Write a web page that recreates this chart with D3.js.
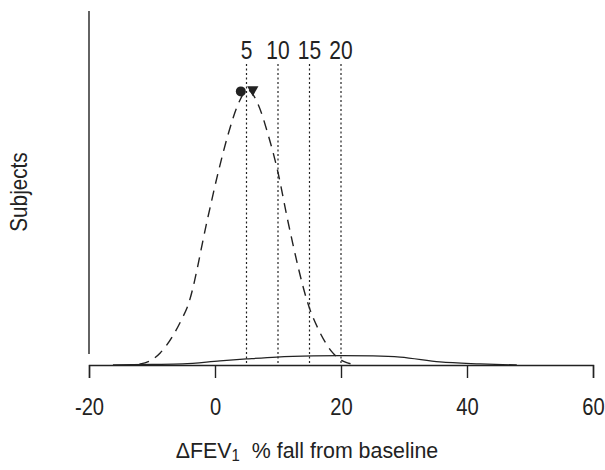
<!DOCTYPE html>
<html>
<head>
<meta charset="utf-8">
<style>
body { margin: 0; background: #fff; }
text { fill: #222; font-family: "Liberation Sans", Arial, sans-serif; }
</style>
</head>
<body>
<script src="https://cdn.jsdelivr.net/npm/d3@7"></script>
<script>
// x ticks
var xTicks = [-20, 0, 20, 40, 60];
// threshold lines (% fall)
var thresholds = [5, 10, 15, 20];
// dashed distribution (x value, relative height)
var dashX = [-12, -10.3, -8.7, -5.2, -4.4, -1.1, 0.5, 2.1, 3.7, 5.2, 6.8, 8.4, 10, 11.6, 15.1, 16.3, 18.7, 20.6, 22];
var dashH = [0.3, 1.5, 4.4, 17, 21, 54, 70, 84, 95, 100, 95, 84, 70, 52, 20, 13.5, 4.4, 1.1, 0.3];
// solid distribution
var solidX = [-16.2, -10, -5.1, 0.8, 5, 9.8, 15.6, 20, 25.1, 29.4, 35.7, 42.1, 47.9];
var solidH = [0, 0.2, 0.4, 1.5, 2.2, 2.9, 3.3, 3.4, 3.3, 2.9, 1.1, 0.4, 0];
// peak markers
var markX = [4.1, 6.0];
var markH = [99.5, 100.5];
var markShape = ["circle", "triangle"];

var width = 605, height = 470;
var narrow = "scale(0.84,1)";  // condensed look of the original font

var svg = d3.select("body").append("svg")
    .attr("width", width)
    .attr("height", height);

var x = d3.scaleLinear().domain([-20, 60]).range([89, 593]);
var y = d3.scaleLinear().domain([0, 100]).range([365, 90]);

// y axis line (no ticks)
svg.append("line")
    .attr("x1", x(-20)).attr("x2", x(-20))
    .attr("y1", 11).attr("y2", 354)
    .attr("stroke", "#222").attr("stroke-width", 1.4);

// x axis
var xAxis = svg.append("g")
    .attr("transform", "translate(0," + y(0) + ")")
    .call(d3.axisBottom(x).tickValues(xTicks).tickSize(13).tickPadding(20)
      .tickFormat(function(d) { return String(d); }));
xAxis.select(".domain").attr("stroke", "#222").attr("stroke-width", 1.4);
xAxis.selectAll(".tick line").attr("stroke", "#222").attr("stroke-width", 1.4);
xAxis.selectAll(".tick text")
    .attr("font-family", "Liberation Sans, Arial, sans-serif")
    .attr("font-size", 24)
    .attr("fill", "#222")
    .attr("transform", narrow);

// threshold dotted lines
svg.selectAll(".thr")
    .data(thresholds)
    .enter().append("line")
    .attr("class", "thr")
    .attr("x1", function(d) { return x(d); })
    .attr("x2", function(d) { return x(d); })
    .attr("y1", 64).attr("y2", y(0))
    .attr("stroke", "#222")
    .attr("stroke-width", 1.2)
    .attr("stroke-dasharray", "2,2.5");

svg.selectAll(".thrlab")
    .data(thresholds)
    .enter().append("g")
    .attr("class", "thrlab")
    .attr("transform", function(d) { return "translate(" + x(d) + ",59)"; })
    .append("text")
    .attr("text-anchor", "middle")
    .attr("font-size", 25)
    .attr("transform", narrow)
    .text(function(d) { return d; });

var line = d3.line()
    .x(function(d) { return x(d[0]); })
    .y(function(d) { return y(d[1]); })
    .curve(d3.curveMonotoneX);

svg.append("path")
    .datum(dashX.map(function(v, i) { return [v, dashH[i]]; }))
    .attr("d", line)
    .attr("fill", "none")
    .attr("stroke", "#222")
    .attr("stroke-width", 1.4)
    .attr("stroke-dasharray", "10,7");

svg.append("path")
    .datum(solidX.map(function(v, i) { return [v, solidH[i]]; }))
    .attr("d", line)
    .attr("fill", "none")
    .attr("stroke", "#222")
    .attr("stroke-width", 1.3);

// markers at the peak
markX.forEach(function(v, i) {
  if (markShape[i] === "circle") {
    svg.append("circle")
      .attr("cx", x(v)).attr("cy", y(markH[i]))
      .attr("r", 5)
      .attr("fill", "#222");
  } else {
    svg.append("path")
      .attr("d", d3.symbol().type(d3.symbolTriangle).size(55)())
      .attr("transform", "translate(" + x(v) + "," + (y(markH[i]) + 1) + ") rotate(180)")
      .attr("fill", "#222");
  }
});

// axis titles
svg.append("g")
    .attr("transform", "translate(27,192) rotate(-90)")
  .append("text")
    .attr("text-anchor", "middle")
    .attr("font-size", 23)
    .attr("transform", "scale(0.9,1)")
    .text("Subjects");

var title = svg.append("g")
    .attr("transform", "translate(307,458)")
  .append("text")
    .attr("text-anchor", "middle")
    .attr("font-size", 23)
    .attr("transform", "scale(0.93,1)");
title.append("tspan").text("\u0394FEV");
title.append("tspan").attr("font-size", 16).attr("dy", 3).text("1");
title.append("tspan").attr("dy", -3).text("\u00a0 % fall from baseline");
</script>
</body>
</html>
